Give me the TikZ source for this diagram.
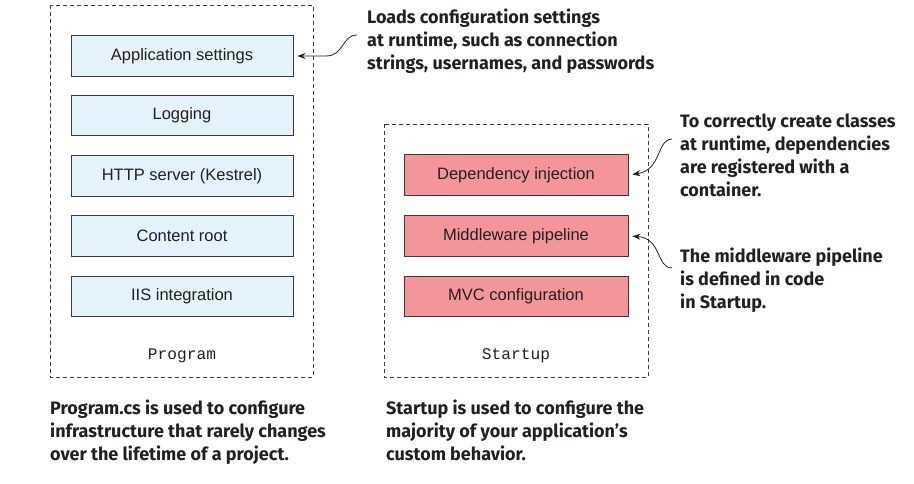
\documentclass[tikz,border=0pt]{standalone}
\usepackage{fontspec}
\setmainfont{Liberation Sans}
\newfontfamily\annotfont{Fira Sans}
\newfontfamily\codefont{Liberation Mono}
\usetikzlibrary{arrows.meta}
\definecolor{txt}{HTML}{231F20}
\definecolor{bluefill}{HTML}{E4F2FC}
\definecolor{pinkfill}{HTML}{F4959B}
\definecolor{edge}{HTML}{3A3A3A}
\tikzset{
  frame/.style={draw=edge, dashed, dash pattern=on 4pt off 3pt, line width=0.8pt},
  bluebox/.style={draw=edge, fill=bluefill, line width=0.8pt, minimum width=222pt, minimum height=40.5pt, inner sep=0pt, font=\fontsize{16.5}{19}\selectfont, text=txt},
  pinkbox/.style={draw=edge, fill=pinkfill, line width=0.8pt, minimum width=224pt, minimum height=40.5pt, inner sep=0pt, font=\fontsize{16.5}{19}\selectfont, text=txt},
  codelbl/.style={font=\codefont\fontsize{16.2}{18}\selectfont, text=txt, inner sep=0pt},
  note/.style={font=\annotfont\bfseries\fontsize{18}{23}\selectfont, text=txt, align=left, anchor=north west, inner sep=0pt},
  callout/.style={draw=txt, line width=0.8pt, -{Stealth[length=8pt,width=6pt]}, shorten >=4pt},
}
\begin{document}
\begin{tikzpicture}[x=1pt,y=-1pt]
\useasboundingbox (0,0) rectangle (914,483);
% frames
\draw[frame] (50,5) rectangle (313,377);
\draw[frame] (384,124) rectangle (648,377);
% blue boxes
\node[bluebox] (b1) at (182,56) {Application settings};
\node[bluebox] (b2) at (182,115.5) {Logging};
\node[bluebox] (b3) at (182,176) {HTTP server (Kestrel)};
\node[bluebox] (b4) at (182,236) {Content root};
\node[bluebox] (b5) at (182,296.5) {IIS integration};
\node[codelbl] (prog) at (182,356) {Program};
% pink boxes
\node[pinkbox] (p1) at (516,175) {Dependency injection};
\node[pinkbox] (p2) at (516,236) {Middleware pipeline};
\node[pinkbox] (p3) at (516,296.5) {MVC configuration};
\node[codelbl] (start) at (516,356) {Startup};
% notes
\node[note] (n1) at (367,8.5) {Loads configuration settings\\at runtime, such as connection\\strings, usernames, and passwords};
\node[note] (n2) at (680,114) {To correctly create classes\\at runtime, dependencies\\are registered with a\\container.};
\node[note] (n3) at (680,247.5) {The middleware pipeline\\is defined in code\\in Startup.};
\node[note] (n4) at (50,399.5) {Program.cs is used to configure\\infrastructure that rarely changes\\over the lifetime of a project.};
\node[note] (n5) at (386,399.5) {Startup is used to configure the\\majority of your application’s\\custom behavior.};
% callouts
\coordinate (c1) at (357,35);
\coordinate (c2) at (672,139);
\coordinate (c3) at (672,268);
\draw[callout] (c1) .. controls (342,35) and (344,56) .. (326,56) -- (b1.east);
\draw[callout] (c2) .. controls (656,140) and (662,170) .. (p1.east);
\draw[callout] (c3) .. controls (656,268) and (662,238) .. (p2.east);
\end{tikzpicture}
\end{document}
